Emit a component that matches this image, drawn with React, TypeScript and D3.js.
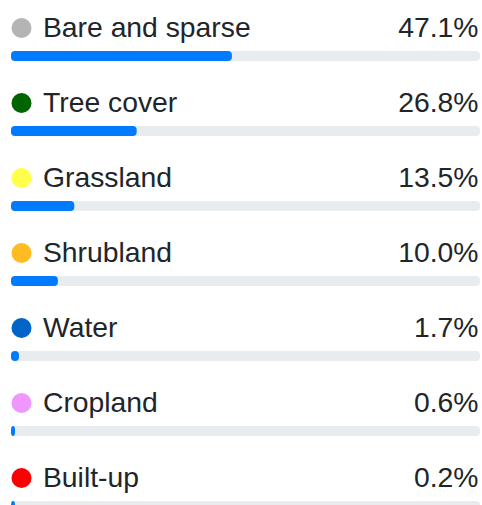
import { useRef, useEffect } from 'react'
import * as d3 from 'd3'

// Land cover classes and their share
const categories = ['Bare and sparse', 'Tree cover', 'Grassland', 'Shrubland', 'Water', 'Cropland', 'Built-up']
const shares = [47.1, 26.8, 13.5, 10.0, 1.7, 0.6, 0.2]
const classColors = ['#b4b4b4', '#006400', '#ffff4c', '#ffbb22', '#0064c8', '#f096ff', '#fa0000']
const valueLabels = ['47.1%', '26.8%', '13.5%', '10.0%', '1.7%', '0.6%', '0.2%']

const WIDTH = 482
const HEIGHT = 505
const FONT = '"Liberation Sans", Arial, Helvetica, sans-serif'

export default function App() {
  const svgRef = useRef<SVGSVGElement | null>(null)

  useEffect(() => {
    if (!svgRef.current) return
    const svg = d3.select(svgRef.current)
    svg.selectAll('*').remove()

    const left = 11
    const right = 480
    const rowStep = 75

    // row scale: each band is one class
    const yScale = d3.scaleBand<string>()
      .domain(categories)
      .range([0, rowStep * categories.length])
      .padding(0)

    const xScale = d3.scaleLinear()
      .domain([0, 100])
      .range([left, right])

    const rows = svg.selectAll('g.row')
      .data(categories)
      .enter()
      .append('g')
      .attr('class', 'row')
      .attr('transform', d => `translate(0,${yScale(d)})`)

    // legend dot
    rows.append('circle')
      .attr('cx', 21.5)
      .attr('cy', 28)
      .attr('r', 10)
      .attr('fill', (_, i) => classColors[i])

    // label
    rows.append('text')
      .attr('x', 43)
      .attr('y', 36.5)
      .attr('fill', '#212529')
      .attr('font-size', '28.3px')
      .attr('font-family', FONT)
      .text(d => d)

    // value
    rows.append('text')
      .attr('x', 478.5)
      .attr('y', 36.5)
      .attr('text-anchor', 'end')
      .attr('fill', '#212529')
      .attr('font-size', '28.3px')
      .attr('font-family', FONT)
      .text((_, i) => valueLabels[i])

    // track
    rows.append('rect')
      .attr('x', xScale(0))
      .attr('y', 51)
      .attr('width', xScale(100) - xScale(0))
      .attr('height', 10)
      .attr('rx', 4)
      .attr('fill', '#e9ecef')

    // progress fill
    rows.append('rect')
      .attr('x', xScale(0))
      .attr('y', 51)
      .attr('width', (_, i) => Math.max(xScale(shares[i]) - xScale(0), 4))
      .attr('height', 10)
      .attr('rx', 4)
      .attr('fill', '#007bff')
  }, [])

  return (
    <div style={{ position: 'absolute', left: 0, top: 0, background: '#fff' }}>
      <svg ref={svgRef} width={WIDTH} height={HEIGHT} style={{ display: 'block' }} />
    </div>
  )
}
